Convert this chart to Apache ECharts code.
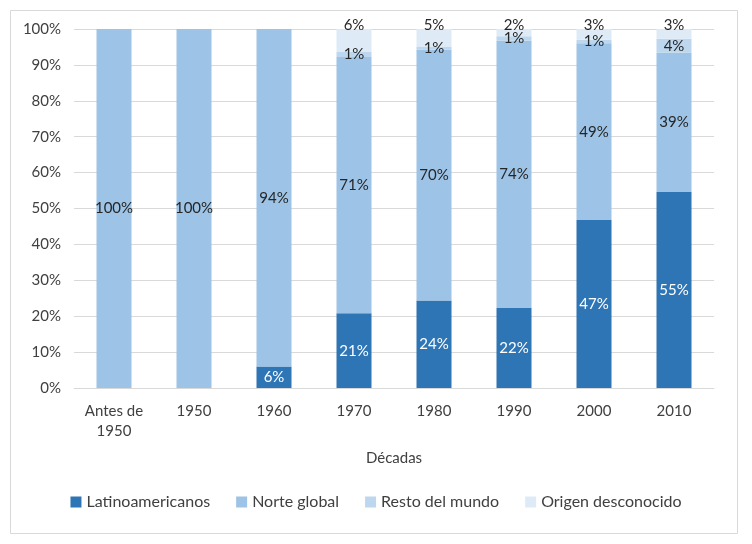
<!DOCTYPE html>
<html>
<head>
<meta charset="utf-8">
<script src="https://cdn.jsdelivr.net/npm/echarts@6/dist/echarts.min.js"></script>
<style>
html,body{margin:0;padding:0;background:#fff;}
#c{width:752px;height:544px;}
</style>
</head>
<body>
<div id="c"></div>
<script>
const categories = ['Antes de\n1950', '1950', '1960', '1970', '1980', '1990', '2000', '2010'];
const latinoamericanos = [0, 0, 6.0, 20.8, 24.4, 22.3, 46.8, 54.6];
const norteGlobal = [100, 100, 94.0, 71.4, 69.8, 74.4, 49.2, 38.8];
const restoMundo = [0, 0, 0, 1.4, 0.9, 1.3, 1.0, 3.9];
const origenDesconocido = [0, 0, 0, 6.4, 4.9, 2.0, 3.0, 2.7];
const yTicks = [0, 10, 20, 30, 40, 50, 60, 70, 80, 90, 100];

const FONT = 'Lato';
const pct = p => (p.value > 0 ? Math.round(p.value) + '%' : '');

const chart = echarts.init(document.getElementById('c'));
chart.setOption({
  animation: false,
  textStyle: { fontFamily: FONT },
  graphic: [{
    type: 'rect', left: 8, top: 8, shape: { width: 727, height: 523 },
    style: { fill: 'none', stroke: '#d9d9d9', lineWidth: 1 }, silent: true
  }],
  grid: { left: 74, right: 38, top: 29, bottom: 156 },
  legend: {
    bottom: 29, left: 'center', itemWidth: 11, itemHeight: 11, itemGap: 26,
    icon: 'rect',
    textStyle: { fontFamily: FONT, fontSize: 16, color: '#404040' },
    data: ['Latinoamericanos', 'Norte global', 'Resto del mundo', 'Origen desconocido']
  },
  xAxis: {
    type: 'category', data: categories,
    name: 'Décadas', nameLocation: 'middle', nameGap: 63,
    nameTextStyle: { fontFamily: FONT, fontSize: 15, color: '#404040' },
    axisLine: { show: true, lineStyle: { color: '#d9d9d9' } },
    axisTick: { show: false },
    axisLabel: { fontFamily: FONT, fontSize: 15, color: '#404040', margin: 13, lineHeight: 20 }
  },
  yAxis: {
    type: 'value', min: 0, max: 100, interval: 10,
    axisLabel: { fontFamily: FONT, fontSize: 15, color: '#404040', margin: 13,
      formatter: v => yTicks.includes(v) ? v + '%' : '' },
    splitLine: { lineStyle: { color: '#d9d9d9' } },
    axisLine: { show: false }, axisTick: { show: false }
  },
  series: [
    { name: 'Latinoamericanos', type: 'bar', stack: 't', data: latinoamericanos, barWidth: 35,
      itemStyle: { color: '#2E75B6' },
      label: { show: true, position: 'inside', color: '#ffffff', fontFamily: FONT, fontSize: 15, formatter: pct } },
    { name: 'Norte global', type: 'bar', stack: 't', data: norteGlobal, barWidth: 35,
      itemStyle: { color: '#9DC3E6' },
      label: { show: true, position: 'inside', color: '#262626', fontFamily: FONT, fontSize: 15, formatter: pct } },
    { name: 'Resto del mundo', type: 'bar', stack: 't', data: restoMundo, barWidth: 35,
      itemStyle: { color: '#BDD7EE' },
      label: { show: true, position: 'inside', color: '#262626', fontFamily: FONT, fontSize: 15, formatter: pct } },
    { name: 'Origen desconocido', type: 'bar', stack: 't', data: origenDesconocido, barWidth: 35,
      itemStyle: { color: '#DEEBF7' },
      label: { show: true, position: 'top', distance: -4, color: '#262626', fontFamily: FONT, fontSize: 15, formatter: pct } }
  ]
});
</script>
</body>
</html>
